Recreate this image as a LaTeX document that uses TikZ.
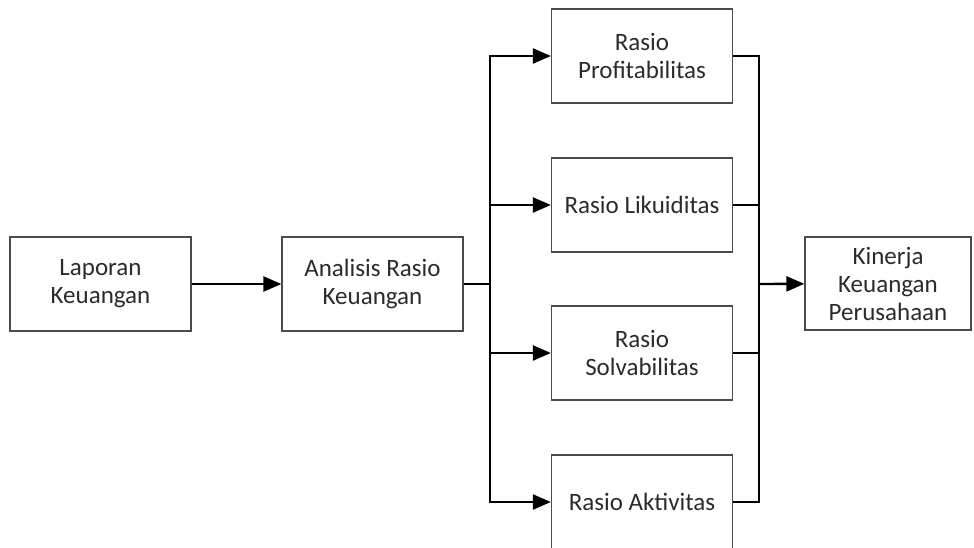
\documentclass[tikz,border=0pt]{standalone}
\usepackage{fontspec}
\setmainfont{Carlito}
\usepackage{xcolor}
\usepackage{tikz}
\usetikzlibrary{shapes, arrows.meta}

\definecolor{boxline}{HTML}{4A4A4A}
\definecolor{boxtext}{HTML}{2B2B2B}

\begin{document}
\begin{tikzpicture}[x=1pt,y=-1pt,>={Triangle[length=18pt,width=15pt]},
      line width=2.4pt,
      main node/.style={rectangle,draw=boxline,line width=1.3pt,text=boxtext,
        minimum width=181pt,minimum height=94pt,align=center,
        font=\fontsize{25}{28}\selectfont}]
    \useasboundingbox (0,0) rectangle (974,547);

        \node[main node] (lap) at (100.5,284) {Laporan\\Keuangan};
        \node[main node] (ana) at (372.5,284) {Analisis Rasio\\Keuangan};
        \node[main node] (pro) at (642,56) {Rasio\\Profitabilitas};
        \node[main node] (lik) at (642,205) {Rasio Likuiditas};
        \node[main node] (sol) at (642,353) {Rasio\\Solvabilitas};
        \node[main node] (akt) at (642,502) {Rasio Aktivitas};
        \node[main node,minimum width=166pt,minimum height=93pt] (kin) at (888,283.5) {Kinerja\\Keuangan\\Perusahaan};

        \coordinate (split) at (490,284);
        \coordinate (merge) at (759,284);

        \draw[->] (lap) -- (ana);
        \draw (ana) -- (split);
        \draw[->] (split) |- (pro);
        \draw[->] (split) |- (lik);
        \draw[->] (split) |- (sol);
        \draw[->] (split) |- (akt);
        \draw (pro) -| (merge);
        \draw (lik) -| (merge);
        \draw (sol) -| (merge);
        \draw (akt) -| (merge);
        \draw[->] (merge) -- (kin);
    \end{tikzpicture}
\end{document}
